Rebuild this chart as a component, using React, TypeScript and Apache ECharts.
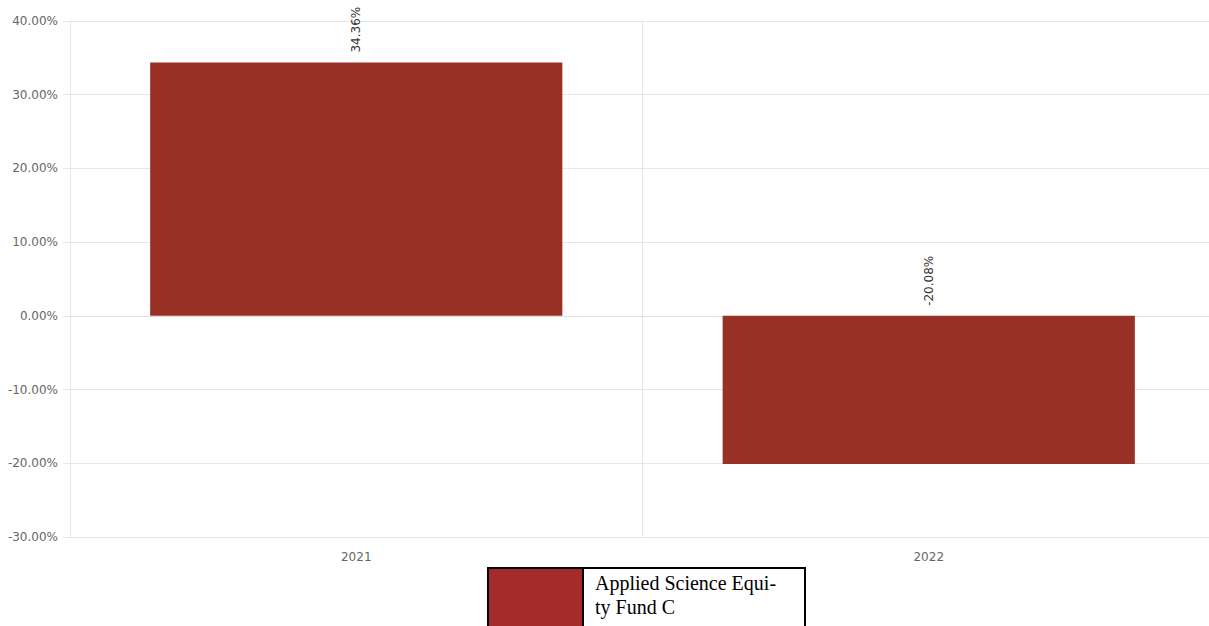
import React, { useEffect, useRef } from "react";
import * as echarts from "echarts";

const categories = ["2021", "2022"];
const seriesName = "Applied Science Equity Fund C";
const values = [34.36, -20.08];
const yMin = -30;
const yMax = 40;
const yInterval = 10;

export default function App() {
  const ref = useRef<HTMLDivElement>(null);
  useEffect(() => {
    document.body.style.margin = "0";
    const chart = echarts.init(ref.current!, null, { renderer: "svg" });
    const gridLine = { color: "#e6e6e6", width: 1 };
    chart.setOption({
      animation: false,
      backgroundColor: "#ffffff",
      textStyle: { fontFamily: "DejaVu Sans" },
      grid: { left: 70, right: 10, top: 21, bottom: 89, containLabel: false },
      xAxis: {
        type: "category",
        data: categories,
        axisLine: { show: true, lineStyle: { color: "#dddddd" } },
        axisTick: { show: true, length: 9, lineStyle: { color: "#e6e6e6" } },
        axisLabel: { color: "#666666", fontSize: 12, margin: 14, fontFamily: "DejaVu Sans" },
        splitLine: { show: true, lineStyle: gridLine },
      },
      yAxis: {
        type: "value",
        min: yMin,
        max: yMax,
        interval: yInterval,
        axisLine: { show: true, lineStyle: { color: "#e6e6e6" } },
        axisTick: { show: true, length: 7, lineStyle: { color: "#e6e6e6" } },
        axisLabel: {
          color: "#666666",
          fontSize: 12,
          margin: 12,
          fontFamily: "DejaVu Sans",
          formatter: (v: number) => v.toFixed(2) + "%",
        },
        splitLine: { show: true, lineStyle: gridLine },
      },
      series: [
        {
          type: "bar",
          name: seriesName,
          data: values,
          barCategoryGap: "28%",
          itemStyle: { color: "#983026" },
          label: {
            show: true,
            position: "top",
            rotate: 90,
            align: "left",
            verticalAlign: "middle",
            distance: 10,
            color: "#333333",
            fontSize: 12,
            fontFamily: "DejaVu Sans",
            formatter: (p: any) => p.value.toFixed(2) + "%",
          },
        },
      ],
      graphic: [
        {
          type: "rect",
          shape: { x: 488, y: 568, width: 95, height: 60 },
          style: { fill: "#a52a2a", stroke: "#000000", lineWidth: 2 },
        },
        {
          type: "rect",
          shape: { x: 583, y: 568, width: 222, height: 60 },
          style: { fill: "#ffffff", stroke: "#000000", lineWidth: 2 },
        },
        {
          type: "text",
          x: 595,
          y: 571,
          style: {
            text: "Applied Science Equi-\nty Fund C",
            fill: "#000000",
            font: '20px "Liberation Serif"',
            lineHeight: 24,
          },
        },
      ],
    });
    return () => chart.dispose();
  }, []);
  return (
    <div
      style={{
        position: "absolute",
        left: 0,
        top: 0,
        width: 1209,
        height: 626,
        overflow: "hidden",
      }}
    >
      <div ref={ref} style={{ width: 1225, height: 626 }} />
    </div>
  );
}
